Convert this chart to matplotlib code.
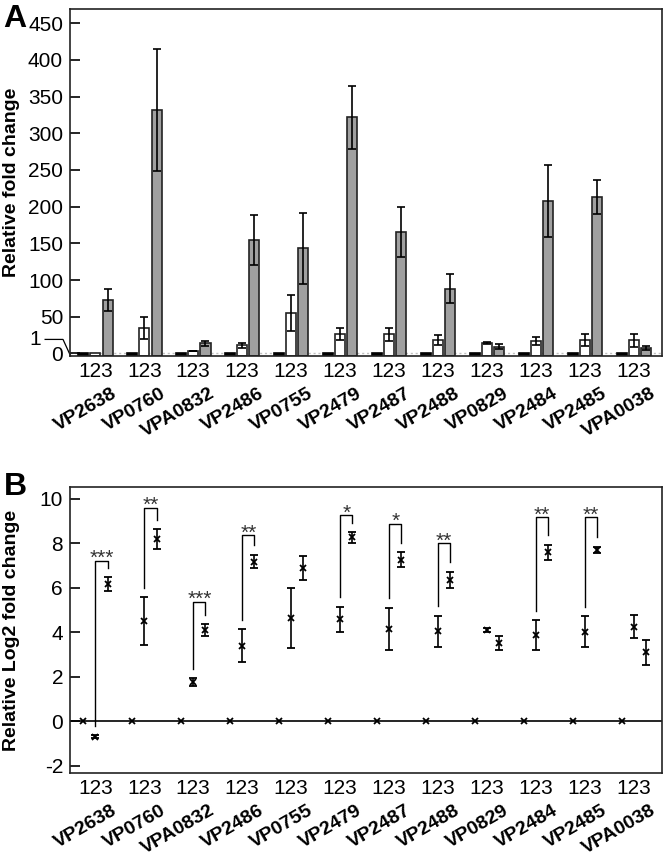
import numpy as np
import matplotlib
matplotlib.use("Agg")
import matplotlib.pyplot as plt
import matplotlib.transforms as mtransforms

plt.rcParams['font.family'] = ['Liberation Sans', 'DejaVu Sans']

genes = ["VP2638", "VP0760", "VPA0832", "VP2486", "VP0755", "VP2479",
         "VP2487", "VP2488", "VP0829", "VP2484", "VP2485", "VPA0038"]
group_tick = "123"

# Panel A: relative fold change (bar 1 = control = 1)
a_bar1 = [1] * 12
a_bar2 = [0.6, 35, 3.3, 11, 55, 26, 26, 18, 14.5, 17, 18, 18]
a_err2 = [0, 15, 0.5, 3.5, 25, 8, 9, 7, 1.2, 5, 8, 9]
a_bar3 = [73, 332, 14, 154, 143, 322, 166, 88, 9, 208, 213, 7]
a_err3 = [15, 83, 3.5, 34, 48, 43, 34, 20, 3.3, 49, 23, 3]
a_yticks = [0, 50, 100, 150, 200, 250, 300, 350, 400, 450]

# Panel B: relative log2 fold change
b_val1 = [0] * 12
b_val2 = [-0.7, 4.5, 1.74, 3.39, 4.65, 4.58, 4.16, 4.05, 4.1, 3.87, 4.02, 4.25]
b_err2 = [0.06, 1.08, 0.18, 0.75, 1.35, 0.57, 0.94, 0.7, 0.1, 0.67, 0.69, 0.52]
b_val3 = [6.17, 8.18, 4.1, 7.18, 6.88, 8.27, 7.27, 6.35, 3.5, 7.6, 7.7, 3.09]
b_err3 = [0.3, 0.46, 0.25, 0.3, 0.54, 0.24, 0.33, 0.37, 0.31, 0.33, 0.15, 0.55]
b_yticks = [-2, 0, 2, 4, 6, 8, 10]
sig_top = [7.22, 9.58, 5.36, 8.36, None, 9.25, 8.87, 8.0, None, 9.16, 9.16, None]
sig_lab = ["***", "**", "***", "**", "", "*", "*", "**", "", "**", "**", ""]

W, H = 666, 858
fig = plt.figure(figsize=(W / 100, H / 100), dpi=100)

def fx(px):
    return px / W

def fy(py):
    return 1 - py / H

axA = fig.add_axes([fx(70), fy(356), fx(662) - fx(70), fy(9) - fy(356)])
axB = fig.add_axes([fx(70), fy(773), fx(662) - fx(70), fy(487) - fy(773)])

n = len(genes)
g = np.arange(n) * 4
x1, x2, x3 = g + 0.0, g + 1.0, g + 2.0
bw = 0.82
XLIM = (-1.07, 47.3)

# ---------- Panel A ----------
ymin_a = -3.6
axA.set_xlim(*XLIM)
axA.set_ylim(ymin_a, 469.5)
axA.axhline(1, color='#c0c0c0', ls=(0, (1.5, 2)), lw=1, zorder=0)
ekw = dict(ecolor='black', elinewidth=1.2, capsize=3, capthick=1.2)
axA.bar(x1, np.array(a_bar1) - ymin_a, bottom=ymin_a, width=bw,
        color='black', edgecolor='black', lw=1.2, zorder=2)
axA.bar(x2, np.array(a_bar2) - ymin_a, bottom=ymin_a, width=bw,
        color='white', edgecolor='#222222', lw=1.2, zorder=2)
axA.bar(x3, np.array(a_bar3) - ymin_a, bottom=ymin_a, width=bw,
        color='#a0a0a0', edgecolor='#222222', lw=1.2, zorder=2)
for xs, vals, errs in [(x2, a_bar2, a_err2), (x3, a_bar3, a_err3)]:
    for xi, v, e in zip(xs, vals, errs):
        if e > 0:
            axA.errorbar([xi], [v], yerr=[e], fmt='none', zorder=3, **ekw)
axA.set_yticks(a_yticks)
axA.set_yticklabels([str(t) for t in a_yticks])

# "1" break marker
tA = mtransforms.blended_transform_factory(axA.transAxes, axA.transData)
axA.text(-0.058, 19.5, "1", transform=tA, ha='center', va='center', fontsize=15)
axA.plot([-0.042, -0.0118, 0.001], [19.0, 19.0, ymin_a], transform=tA,
         color='black', lw=0.9, clip_on=False)

# ---------- Panel B ----------
axB.set_xlim(*XLIM)
axB.set_ylim(-2.33, 10.53)
axB.axhline(0, color='black', lw=1.2, zorder=1)
pkw = dict(fmt='x', color='black', markersize=4, mew=1.3, elinewidth=1.2,
           capsize=3, capthick=1.2, zorder=3)
axB.errorbar(x1, b_val1, **{k: v for k, v in pkw.items() if k not in ('capsize', 'capthick', 'elinewidth')})
axB.errorbar(x2, b_val2, yerr=b_err2, **pkw)
axB.errorbar(x3, b_val3, yerr=b_err3, **pkw)
gap = 0.42
for i in range(n):
    if sig_top[i] is None:
        continue
    top = sig_top[i]
    lb = b_val2[i] + b_err2[i] + gap
    rb = b_val3[i] + b_err3[i] + gap
    axB.plot([x2[i], x2[i], x3[i], x3[i]], [lb, top, top, rb],
             color='black', lw=1.0, zorder=2)
    axB.text((x2[i] + x3[i]) / 2, top - 0.14, sig_lab[i], ha='center',
             va='baseline', fontsize=15, color='#333333')
axB.set_yticks(b_yticks)
axB.set_yticklabels([str(t) for t in b_yticks])

# ---------- common styling ----------
for ax, lab in [(axA, "Relative fold change"), (axB, "Relative Log2 fold change")]:
    for s in ax.spines.values():
        s.set_linewidth(1.2)
        s.set_color('#222222')
    ax.tick_params(axis='y', direction='in', length=7, width=1.2,
                   labelsize=15, pad=5)
    ax.set_xticks(x2)
    ax.set_xticklabels([group_tick] * n)
    ax.tick_params(axis='x', length=0, labelsize=15, pad=4)
    ax.set_ylabel(lab, fontsize=14, fontweight='bold')
    ax.yaxis.set_label_coords(-0.085, 0.5)
    for i, name in enumerate(genes):
        ax.annotate(name, xy=(x3[i], 0), xycoords=('data', 'axes fraction'),
                    xytext=(3, -21), textcoords='offset points',
                    rotation=30, rotation_mode='anchor', ha='right', va='top',
                    fontsize=14, fontweight='bold', annotation_clip=False)

fig.text(fx(3), fy(27), "A", fontsize=23, fontweight='bold', va='baseline')
fig.text(fx(4), fy(495), "B", fontsize=23, fontweight='bold', va='baseline')

fig.savefig("out.png", dpi=100)
